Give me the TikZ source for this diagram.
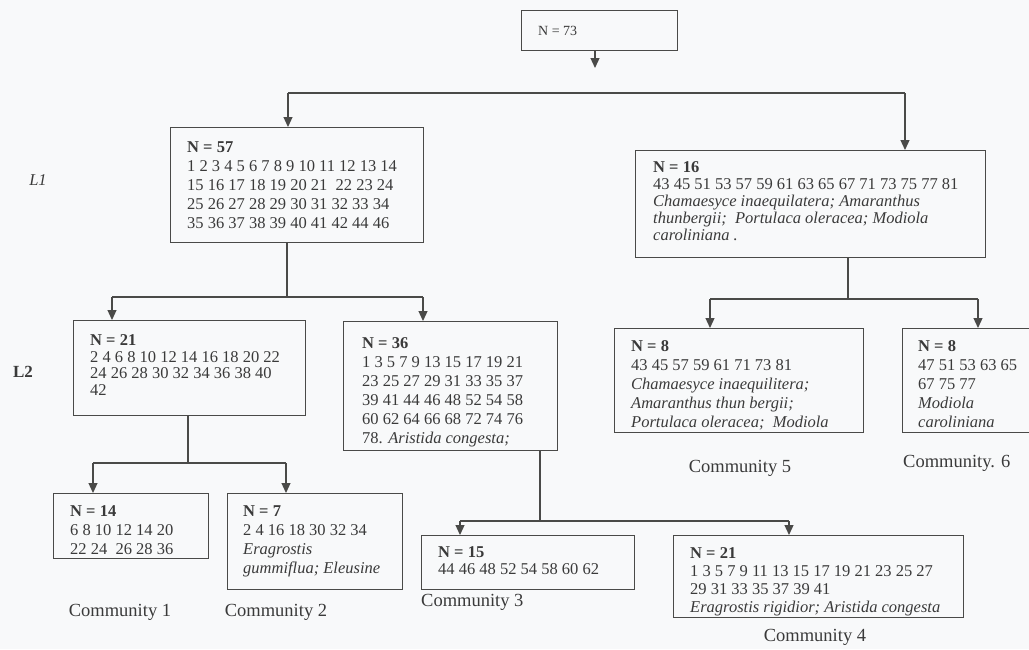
\documentclass[tikz,border=0pt]{standalone}
\usepackage{fontspec}
\setmainfont{Liberation Serif}
\usetikzlibrary{arrows.meta}
\definecolor{boxc}{HTML}{4A4A48}
\definecolor{linec}{HTML}{4A4A48}
\definecolor{txtc}{HTML}{3A3A3A}
\definecolor{bgc}{HTML}{F8F9FA}
\begin{document}
\begin{tikzpicture}[x=1pt,y=-1pt,
  boxst/.style={draw=boxc, line width=1.3pt, inner sep=0pt, anchor=north west},
  txt/.style={anchor=north west, inner sep=0pt, align=left, text=txtc},
  conn/.style={draw=linec, line width=1.2pt},
  arr/.style={conn, -{Triangle[width=9pt,length=10pt]}},
  lab/.style={text=txtc, font=\fontsize{18.5}{20}\selectfont, inner sep=0pt}]
\fill[bgc] (0,0) rectangle (1029,649);
\useasboundingbox (0,0) rectangle (1029,649);

% boxes
\node[boxst, minimum width=156pt, minimum height=40pt] (root) at (521,10) {};
\node[boxst, minimum width=253pt, minimum height=115pt] (b57) at (170,127) {};
\node[boxst, minimum width=350pt, minimum height=107pt] (b16) at (635,150) {};
\node[boxst, minimum width=232pt, minimum height=95pt] (b21) at (73,320) {};
\node[boxst, minimum width=214pt, minimum height=129pt] (b36) at (343,321) {};
\node[boxst, minimum width=249pt, minimum height=104pt] (b8a) at (614,328) {};
\node[boxst, minimum width=127pt, minimum height=104pt] (b8b) at (902,328) {};
\node[boxst, minimum width=155pt, minimum height=65pt] (b14) at (53,493) {};
\node[boxst, minimum width=175pt, minimum height=96pt] (b7) at (227,493) {};
\node[boxst, minimum width=213pt, minimum height=54pt] (b15) at (421,535) {};
\node[boxst, minimum width=290pt, minimum height=82pt] (b21c) at (673,535) {};

% texts
\node[txt, anchor=west, font=\fontsize{14}{16}\selectfont] (t73) at (538,31) {N = 73};
\node[txt, font=\fontsize{16.5}{19}\selectfont] (t57) at (187,141.5) {\textbf{N = 57}\\
1 2 3 4 5 6 7 8 9 10 11 12 13 14\\
15 16 17 18 19 20 21\ \ 22 23 24\\
25 26 27 28 29 30 31 32 33 34\\
35 36 37 38 39 40 41 42 44 46};
\node[txt, font=\fontsize{16.5}{17}\selectfont] (t16) at (653,161.5) {\textbf{N = 16}\\
43 45 51 53 57 59 61 63 65 67 71 73 75 77 81\\
\textit{Chamaesyce inaequilatera; Amaranthus}\\
\textit{thunbergii;\ \ Portulaca oleracea; Modiola}\\
\textit{caroliniana .}};
\node[txt, font=\fontsize{16.5}{16.5}\selectfont] (t21) at (90,334.5) {\textbf{N = 21}\\
2 4 6 8 10 12 14 16 18 20 22\\
24 26 28 30 32 34 36 38 40\\
42};
\node[txt, font=\fontsize{16.5}{19}\selectfont] (t36) at (362,337.5) {\textbf{N = 36}\\
1 3 5 7 9 13 15 17 19 21\\
23 25 27 29 31 33 35 37\\
39 41 44 46 48 52 54 58\\
60 62 64 66 68 72 74 76\\
78. \textit{Aristida congesta;}};
\node[txt, font=\fontsize{16.5}{19}\selectfont] (t8a) at (631,340.5) {\textbf{N = 8}\\
43 45 57 59 61 71 73 81\\
\textit{Chamaesyce inaequilitera;}\\
\textit{Amaranthus thun bergii;}\\
\textit{Portulaca oleracea;\ \ Modiola}};
\node[txt, font=\fontsize{16.5}{19}\selectfont] (t8b) at (918,340.5) {\textbf{N = 8}\\
47 51 53 63 65\\
67 75 77\\
\textit{Modiola}\\
\textit{caroliniana}};
\node[txt, font=\fontsize{16.5}{19}\selectfont] (t14) at (70,505.5) {\textbf{N = 14}\\
6 8 10 12 14 20\\
22 24\ \ 26 28 36};
\node[txt, font=\fontsize{16.5}{19}\selectfont] (t7) at (243,505.5) {\textbf{N = 7}\\
2 4 16 18 30 32 34\\
\textit{Eragrostis}\\
\textit{gummiflua; Eleusine}};
\node[txt, font=\fontsize{16.5}{17}\selectfont] (t15) at (438,546.5) {\textbf{N = 15}\\
44 46 48 52 54 58 60 62};
\node[txt, font=\fontsize{16.5}{18}\selectfont] (t21c) at (690,547.5) {\textbf{N = 21}\\
1 3 5 7 9 11 13 15 17 19 21 23 25 27\\
29 31 33 35 37 39 41\\
\textit{Eragrostis rigidior; Aristida congesta}};

% level labels
\node[text=txtc, font=\fontsize{16.5}{18}\selectfont\itshape, inner sep=0pt] (L1) at (38,180) {L1};
\node[text=txtc, font=\fontsize{17}{18}\selectfont\bfseries, inner sep=0pt] (L2) at (23,372) {L2};

% community labels
\node[lab] (c1) at (120,612) {Community 1};
\node[lab] (c2) at (276,612) {Community 2};
\node[lab, anchor=west] (c3) at (421,602) {Community 3};
\node[lab] (c4) at (815,637) {Community 4};
\node[lab] (c5) at (740,468) {Community 5};
\node[lab, anchor=west] (c6) at (903,463) {Community. 6};

% connectors
\coordinate (r0) at (595,68);
\draw[arr] (r0 |- root.south) -- (r0);

\coordinate (j0L) at (288,93);
\coordinate (j0R) at (905,93);
\draw[conn] (j0L) -- (j0R);
\draw[arr] (j0L) -- (j0L |- b57.north);
\draw[arr] (j0R) -- (j0R |- b16.north);

\coordinate (j1) at (287,297);
\coordinate (j1L) at (112,297);
\coordinate (j1R) at (423,297);
\draw[conn] (j1 |- b57.south) -- (j1);
\draw[conn] (j1L) -- (j1R);
\draw[arr] (j1L) -- (j1L |- b21.north);
\draw[arr] (j1R) -- (j1R |- b36.north);

\coordinate (j2) at (848,299);
\coordinate (j2L) at (710,299);
\coordinate (j2R) at (978,299);
\draw[conn] (j2 |- b16.south) -- (j2);
\draw[conn] (j2L) -- (j2R);
\draw[arr] (j2L) -- (j2L |- b8a.north);
\draw[arr] (j2R) -- (j2R |- b8b.north);

\coordinate (j3) at (188,463);
\coordinate (j3L) at (93,463);
\coordinate (j3R) at (286,463);
\draw[conn] (j3 |- b21.south) -- (j3);
\draw[conn] (j3L) -- (j3R);
\draw[arr] (j3L) -- (j3L |- b14.north);
\draw[arr] (j3R) -- (j3R |- b7.north);

\coordinate (j4) at (540,521);
\coordinate (j4L) at (460,521);
\coordinate (j4R) at (789,521);
\draw[conn] (j4 |- b36.south) -- (j4);
\draw[conn] (j4L) -- (j4R);
\draw[arr] (j4L) -- (j4L |- b15.north);
\draw[arr] (j4R) -- (j4R |- b21c.north);
\end{tikzpicture}
\end{document}
